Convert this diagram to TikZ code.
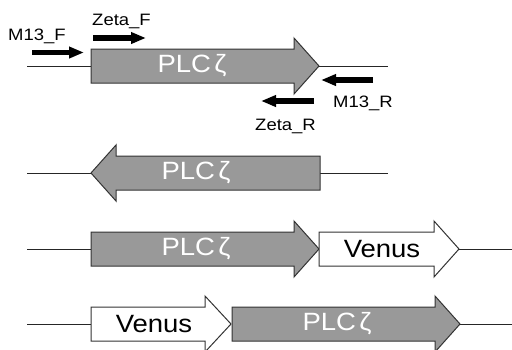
\documentclass[tikz,border=0pt]{standalone}
\usepackage{fontspec}
\setmainfont{Liberation Sans}
\usetikzlibrary{arrows.meta}
\tikzset{
  backbone/.style={line width=0.9pt, black!85},
  gene/.style={draw=black!80, line width=1pt, line join=miter},
  plc/.style={gene, fill=black!40},
  venus/.style={gene, fill=white},
  primer/.style={line width=5.5pt, -{Triangle[length=15pt,width=11pt]}},
  big/.style={font=\fontsize{25}{25}\selectfont, xscale=1.1, transform shape, inner sep=0pt, anchor=center},
  small/.style={font=\fontsize{16.5}{16.5}\selectfont, xscale=1.12, transform shape, inner sep=0pt},
}
% right arrow: x1 (start), x2 (shaft end), x3 (tip), y
\newcommand{\rarrow}[5]{\draw[#5] (#1,#4-17) -- (#2,#4-17) -- (#2,#4-28) -- (#3,#4) -- (#2,#4+28) -- (#2,#4+17) -- (#1,#4+17) -- cycle;}
\begin{document}
\begin{tikzpicture}[x=1pt,y=-1pt]
\useasboundingbox (0,0) rectangle (512,349);
\clip (0,0) rectangle (512,349);

% ---- row 1
\draw[backbone] (27,66) -- (91,66);
\draw[backbone] (319,66) -- (388,66);
\rarrow{91}{294}{319}{66}{plc}
\node[big, text=white] (p1) at (192,66) {PLC\hspace{3pt}ζ};
% primers
\coordinate (m13fs) at (32,52.5); \coordinate (m13fe) at (84,52.5);
\coordinate (zfs) at (93,38); \coordinate (zfe) at (146,38);
\coordinate (m13rs) at (373,80); \coordinate (m13re) at (321,80);
\coordinate (zrs) at (314,101); \coordinate (zre) at (261,101);
\draw[primer] (m13fs) -- (m13fe);
\draw[primer] (zfs) -- (zfe);
\draw[primer] (m13rs) -- (m13re);
\draw[primer] (zrs) -- (zre);
\node[small, anchor=base west] (lm13f) at (8,40) {M13\_F};
\node[small, anchor=base west] (lzf) at (92,25) {Zeta\_F};
\node[small, anchor=base west] (lm13r) at (333,107) {M13\_R};
\node[small, anchor=base west] (lzr) at (255,130) {Zeta\_R};

% ---- row 2
\draw[backbone] (27,173) -- (91,173);
\draw[backbone] (320,173) -- (388,173);
\draw[plc] (320,156) -- (116,156) -- (116,145) -- (91,173) -- (116,201) -- (116,190) -- (320,190) -- cycle;
\node[big, text=white] (p2) at (196,173) {PLC\hspace{3pt}ζ};

% ---- row 3
\draw[backbone] (27,249) -- (91,249);
\draw[backbone] (459,249) -- (512,249);
\rarrow{91}{294}{319}{249}{plc}
\rarrow{319}{434}{459}{249}{venus}
\node[big, text=white] (p3) at (196,249) {PLC\hspace{3pt}ζ};
\node[big, text=black] (v3) at (382,249) {Venus};

% ---- row 4
\draw[backbone] (27,324) -- (91,324);
\draw[backbone] (460,324) -- (512,324);
\rarrow{91}{205}{231}{324}{venus}
\rarrow{232}{435}{460}{324}{plc}
\node[big, text=black] (v4) at (154,324) {Venus};
\node[big, text=white] (p4) at (337,324) {PLC\hspace{3pt}ζ};
\end{tikzpicture}
\end{document}
